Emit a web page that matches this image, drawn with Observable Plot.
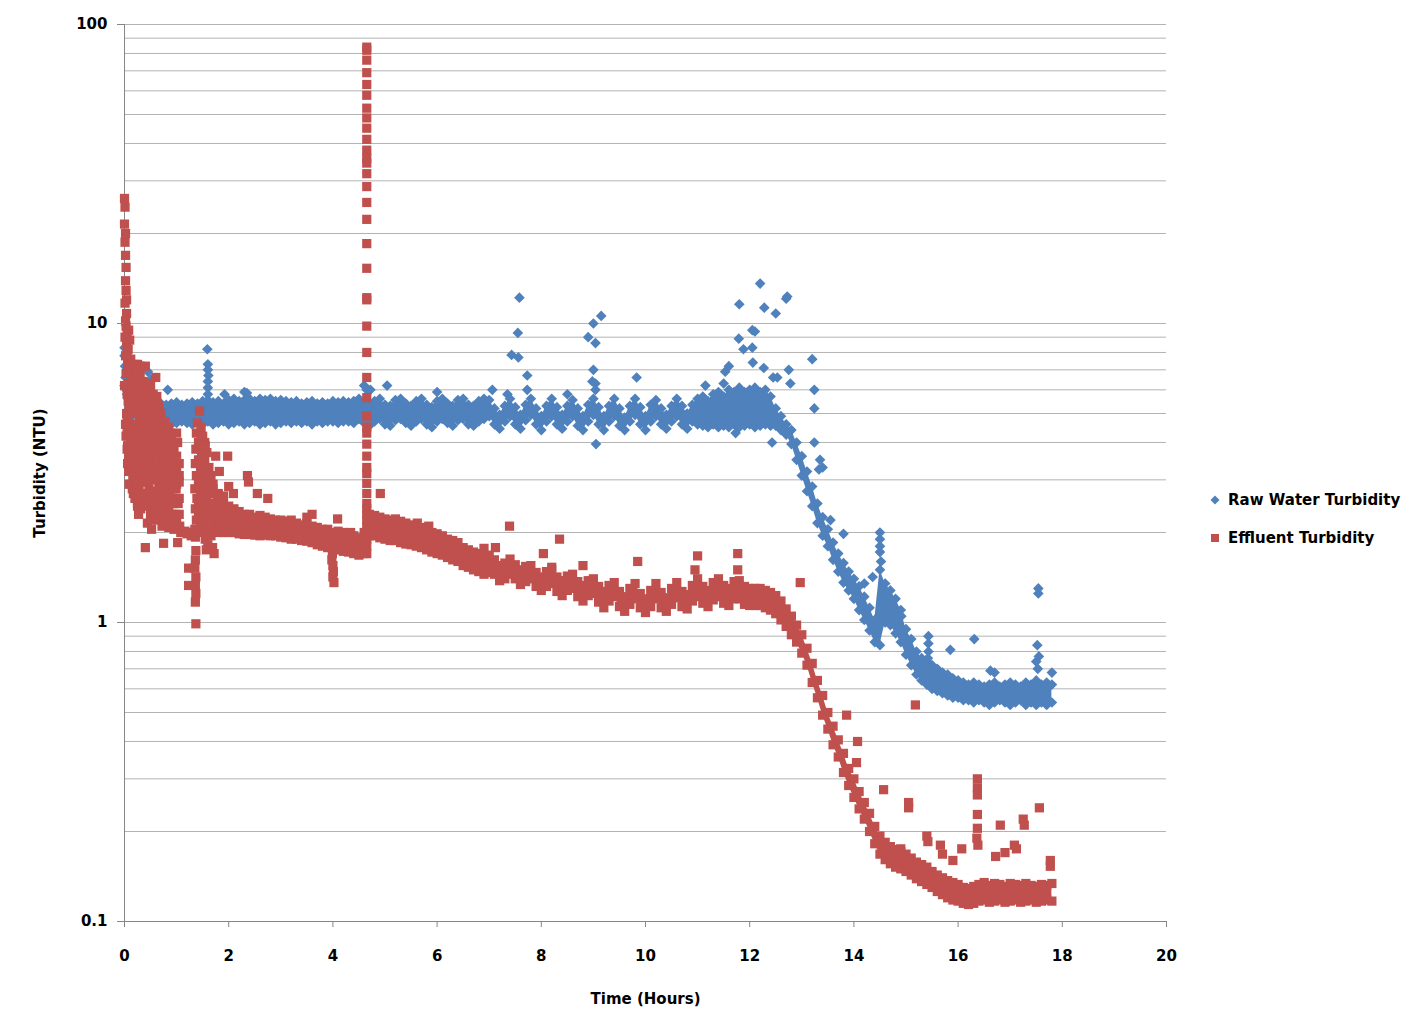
<!DOCTYPE html>
<html>
<head>
<meta charset="utf-8">
<script src="https://cdn.jsdelivr.net/npm/d3@7"></script>
<script src="https://cdn.jsdelivr.net/npm/@observablehq/plot@0.6"></script>
<style>
  html, body { margin: 0; padding: 0; background: #fff; }
  #wrap { position: relative; width: 1424px; height: 1035px; }
  #legend { position: absolute; left: 1208px; top: 490px; font: bold 15px 'DejaVu Sans', sans-serif; color: #000; }
  #legend .item { display: flex; align-items: center; height: 20px; margin-bottom: 18px; white-space: nowrap; }
  #legend svg { margin-right: 6px; }
</style>
</head>
<body>
<div id="wrap"><div id="chart"></div>
<div id="legend"></div></div>
<script>
const BLUE = "#4F81BD";
const RED = "#C0504D";

const xTicks = [0, 2, 4, 6, 8, 10, 12, 14, 16, 18, 20];
const yTicks = [0.1, 1, 10, 100];
const gridValues = [0.2,0.3,0.4,0.5,0.6,0.7,0.8,0.9,1,2,3,4,5,6,7,8,9,10,20,30,40,50,60,70,80,90,100];

const seriesNames = ["Raw Water Turbidity", "Effluent Turbidity"];

// Raw water: envelope of the dense scatter band, sampled every 0.1 h from 0.3 h
const rawStart = 0.3, rawStep = 0.1;
const rawHigh = [
  5.45,5.4,5.35,5.45,5.4,5.35,5.4,5.45,5.35,5.4,
  5.45,5.4,5.5,5.55,5.45,5.5,5.4,5.55,5.6,5.5,
  5.55,5.6,5.5,5.6,5.55,5.6,5.5,5.55,5.5,5.45,
  5.5,5.4,5.45,5.5,5.4,5.45,5.4,5.5,5.45,5.5,
  5.45,5.5,
  5.6,5.4,5.3,5.5,5.6,5.35,5.3,5.55,5.6,5.4,5.3,5.5,5.6,5.35,5.25,5.5,5.6,5.4,5.3,5.55,5.6,5.35,5.3,5.5,5.6,
  5.55,5.2,4.95,5.3,5.6,5.25,4.95,5.35,5.6,5.2,4.9,5.3,5.6,5.25,4.95,5.3,5.55,5.2,4.9,5.35,
  5.6,5.25,4.9,5.3,5.6,5.2,4.85,5.3,5.6,5.25,4.9,5.35,5.55,5.2,4.95,5.3,5.6,5.3,5.0,5.35,
  5.6,5.7,5.5,5.8,5.9,5.7,6.0,5.9,6.1,5.9,6.0,6.1,5.9,6.0,5.7,
  5.2,4.9,4.6,4.4,4.0,3.6,3.2,2.85,2.5,2.25,2.05,1.85,1.7,1.58,1.48,1.4,1.32,1.22,1.12,1.02,
  1.5,1.35,1.28,1.2,1.1,0.95,0.88,0.8,0.76,0.74,0.72,0.7,0.68,0.67,0.65,0.64,0.63,0.62,0.63,0.62,
  0.61,0.62,0.63,0.61,0.62,0.63,0.62,0.61,0.63,0.62,0.64,0.62,0.63,0.62
];
const rawLow = [
  4.7,4.7,4.65,4.6,4.65,4.7,4.6,4.65,4.7,4.65,
  4.6,4.65,4.6,4.7,4.6,4.65,4.7,4.6,4.65,4.7,
  4.6,4.65,4.7,4.6,4.65,4.7,4.6,4.65,4.7,4.65,
  4.7,4.65,4.7,4.6,4.7,4.65,4.7,4.7,4.65,4.7,
  4.7,4.65,
  4.8,4.65,4.55,4.7,4.8,4.6,4.55,4.75,4.8,4.65,4.55,4.7,4.8,4.6,4.5,4.7,4.8,4.65,4.55,4.75,4.8,4.6,4.55,4.7,4.8,
  4.9,4.6,4.45,4.7,4.9,4.6,4.45,4.75,4.95,4.6,4.4,4.7,4.9,4.6,4.45,4.7,4.9,4.55,4.4,4.7,
  4.95,4.6,4.4,4.7,4.9,4.55,4.4,4.7,4.95,4.6,4.4,4.7,4.9,4.6,4.45,4.7,4.9,4.6,4.45,4.7,
  4.6,4.55,4.5,4.6,4.5,4.55,4.5,4.6,4.5,4.55,4.6,4.5,4.55,4.6,4.55,
  4.55,4.4,4.25,3.95,3.5,3.1,2.75,2.45,2.15,1.95,1.8,1.62,1.48,1.36,1.28,1.2,1.1,1.02,0.94,0.86,
  0.84,1.0,0.98,0.92,0.86,0.78,0.72,0.67,0.64,0.62,0.6,0.59,0.58,0.57,0.56,0.56,0.55,0.55,0.54,0.55,
  0.54,0.53,0.54,0.55,0.54,0.53,0.54,0.55,0.53,0.54,0.53,0.54,0.53,0.54
];
// Raw water: isolated readings [hours, NTU]
const rawExtra = [
  [0.0,8.3],[0.0,7.8],[0.01,7.2],[0.02,6.6],[0.0,6.2],[0.03,6.0],[0.05,5.8],[0.07,5.6],[0.1,5.5],[0.12,5.2],
  [0.15,5.0],[0.18,5.3],[0.2,5.6],[0.25,5.4],[0.27,4.9],[0.05,5.1],[0.1,4.8],
  [0.4,6.2],[0.45,6.9],[0.5,6.5],[0.83,6.0],[1.59,8.2],[1.6,7.3],[1.6,7.0],[1.61,6.7],[1.6,6.4],[1.6,6.1],[1.6,5.8],
  [1.92,5.8],[2.3,5.9],[2.35,5.85],[4.6,6.2],[4.65,6.0],[4.72,6.0],[5.04,6.2],[6.0,5.9],[7.06,6.0],[7.35,5.8],
  [7.43,7.85],[7.56,7.7],[7.55,9.3],[7.58,12.2],[7.73,6.7],[7.73,6.0],[8.5,5.8],[8.9,9.0],[9.0,10.0],[9.15,10.6],
  [9.04,8.6],[9.0,7.0],[8.98,6.4],[9.04,6.3],[9.04,6.0],[9.05,3.95],[9.83,6.6],[11.15,6.2],[11.5,6.3],[11.53,6.9],
  [11.6,7.2],[11.73,4.3],[11.79,8.9],[11.8,11.6],[11.88,8.2],[12.05,9.5],[12.1,9.4],[12.05,8.3],[12.06,7.4],[12.2,13.6],
  [12.27,7.1],[12.28,11.3],[12.5,10.8],[12.53,6.6],[12.45,6.6],[12.43,4.0],[12.7,12.1],[12.72,12.3],[12.75,7.0],[12.78,6.3],
  [13.2,7.6],[13.24,6.0],[13.24,5.2],[13.24,4.0],[13.35,3.5],[13.4,3.3],[13.33,3.25],[13.55,2.2],[13.8,1.98],
  [14.5,2.0],[14.5,1.9],[14.5,1.8],[14.5,1.72],[14.52,1.6],[14.36,1.42],[14.2,1.35],[14.91,1.05],
  [15.43,0.9],[15.43,0.85],[15.43,0.8],[15.42,0.76],[15.85,0.81],[16.31,0.88],[16.62,0.69],[16.7,0.68],
  [17.54,1.25],[17.54,1.3],[17.52,0.84],[17.55,0.77],[17.5,0.74],[17.53,0.7],[17.8,0.68]
];

// Effluent: envelope of the dense band, sampled every 0.1 h from 1.7 h
const effStart = 1.7, effStep = 0.1;
const effHigh = [
  2.9,2.7,2.55,2.45,2.4,2.35,2.3,2.3,2.25,2.28,2.25,2.22,2.2,2.2,2.18,2.2,2.15,2.12,2.15,2.1,2.08,2.05,2.05,2.0,2.02,2.0,1.98,1.95,1.92,
  2.0,2.3,2.28,2.25,2.22,2.2,2.22,2.18,2.15,2.12,2.1,2.08,2.05,2.0,1.98,1.95,1.9,1.88,1.85,1.78,1.75,1.72,1.7,1.65,1.68,
  1.62,1.55,1.58,1.63,1.56,1.5,1.54,1.55,1.47,1.42,1.48,1.5,1.42,1.38,1.43,1.45,1.37,1.33,1.38,1.4,
  1.32,1.27,1.33,1.36,1.27,1.22,1.3,1.35,1.25,1.2,1.28,1.35,1.26,1.21,1.3,1.36,1.27,1.24,1.33,1.4,
  1.32,1.28,1.36,1.4,1.33,1.3,1.37,1.38,1.32,1.3,1.3,
  1.3,1.28,1.26,1.23,1.18,1.11,1.05,0.98,0.91,0.82,0.73,0.64,0.57,0.5,0.45,0.405,0.365,0.325,0.3,0.272,
  0.25,0.23,0.208,0.193,0.184,0.178,0.174,0.171,0.168,0.163,0.158,0.155,0.152,0.147,0.143,0.14,0.137,0.135,0.133,0.13,
  0.129,0.131,0.133,0.135,0.132,0.134,0.133,0.131,0.134,0.133,0.132,0.134,0.132,0.131,0.133,0.132,0.134
];
const effLow = [
  2.05,2.0,2.0,2.0,2.0,1.98,1.97,1.97,1.96,1.95,1.96,1.95,1.95,1.93,1.92,1.9,1.9,1.88,1.87,1.85,1.82,1.8,1.78,1.75,1.75,1.73,1.72,1.7,1.68,
  1.7,1.95,1.95,1.92,1.9,1.88,1.88,1.85,1.83,1.82,1.8,1.78,1.75,1.72,1.7,1.68,1.65,1.62,1.6,1.55,1.53,1.5,1.48,1.45,1.47,
  1.45,1.38,1.4,1.45,1.4,1.34,1.37,1.4,1.32,1.28,1.32,1.35,1.27,1.23,1.28,1.3,1.22,1.18,1.23,1.25,
  1.17,1.12,1.18,1.22,1.13,1.09,1.15,1.2,1.12,1.08,1.13,1.2,1.12,1.09,1.15,1.21,1.13,1.11,1.18,1.22,
  1.16,1.13,1.19,1.22,1.16,1.14,1.2,1.2,1.15,1.14,1.14,
  1.14,1.12,1.1,1.07,1.02,0.97,0.91,0.86,0.79,0.72,0.63,0.56,0.49,0.44,0.39,0.355,0.315,0.285,0.26,0.238,
  0.22,0.2,0.182,0.168,0.161,0.156,0.152,0.15,0.147,0.143,0.139,0.136,0.133,0.13,0.126,0.123,0.12,0.118,0.117,0.115,
  0.114,0.115,0.117,0.118,0.116,0.117,0.118,0.116,0.117,0.118,0.116,0.117,0.118,0.116,0.117,0.118,0.117
];
// Effluent: scattered start-up readings and outliers [hours, NTU]
const effExtra = [
  [0.0,26.2],[0.01,24.5],[0.0,21.5],[0.02,20],[0.01,18.7],[0.02,16.9],[0.03,15.4],[0.02,13.9],[0.03,12.9],[0.01,11.7],
  [0.04,10.8],[0.03,9.8],[0.05,9.3],[0.04,8.6],[0.05,8.0],[0.06,7.4],[0.03,6.8],[0.07,6.3],[0.05,5.8],[0.02,10.2],
  [0.04,12.0],[0.01,9.0],[0.06,7.0],[0.02,7.8],[0.0,6.2],[0.08,6.9],[0.07,5.5],[0.04,5.0],[0.02,4.6],[0.03,4.2],
  [0.05,3.8],[0.06,3.4],[0.08,4.5],[0.09,5.2],[0.05,4.8],[0.05,4.4],[0.06,3.9],[0.08,3.6],[0.08,3.2],[0.09,2.9],
  [0.08,9.5],[0.1,8.8],[0.07,8.2],[0.12,7.6],[0.1,7.1],[0.14,6.6],[0.09,6.2],[0.12,5.8],[0.16,5.4],[0.1,5.0],
  [0.13,4.6],[0.17,4.3],[0.11,4.0],[0.15,3.7],[0.12,3.4],[0.16,3.1],[0.14,2.9],[0.17,2.7],
  [0.15,6.0],[0.15,5.0],[0.15,4.4],[0.15,3.9],[0.15,3.3],[0.15,2.8],
  [0.2,7.3],[0.25,7.3],[0.3,7.2],[0.22,6.8],[0.28,6.4],[0.34,6.1],[0.2,5.9],[0.26,5.6],[0.32,5.3],[0.23,5.0],
  [0.29,4.7],[0.35,4.5],[0.21,4.3],[0.27,4.0],[0.33,3.8],[0.24,3.6],[0.3,3.4],[0.36,3.2],[0.22,3.0],[0.28,2.85],
  [0.34,2.7],[0.25,2.5],[0.31,2.4],[0.27,2.3],
  [0.2,6.4],[0.2,5.4],[0.2,4.6],[0.2,4.1],[0.2,3.5],[0.2,3.2],[0.2,2.6],
  [0.25,6.9],[0.25,6.0],[0.25,5.2],[0.25,4.6],[0.25,3.9],[0.25,3.3],[0.25,2.9],[0.25,2.45],
  [0.3,6.7],[0.3,5.8],[0.3,5.0],[0.3,4.3],[0.3,3.7],[0.3,3.1],[0.3,2.7],
  [0.35,6.4],[0.35,5.6],[0.35,4.8],[0.35,4.1],[0.35,3.5],[0.35,3.0],[0.35,2.55],
  [0.4,7.2],[0.45,6.3],[0.5,5.9],[0.42,5.6],[0.48,5.2],[0.54,4.9],[0.39,4.7],[0.46,4.4],[0.52,4.1],[0.41,3.9],
  [0.49,3.7],[0.55,3.5],[0.43,3.3],[0.5,3.1],[0.38,2.95],[0.47,2.8],[0.53,2.6],[0.4,2.45],[0.5,2.3],[0.44,2.15],
  [0.52,2.05],[0.4,1.78],
  [0.4,6.0],[0.4,5.3],[0.4,4.9],[0.4,4.2],[0.4,3.6],[0.4,3.1],[0.4,2.6],
  [0.45,5.9],[0.45,5.1],[0.45,4.7],[0.45,4.0],[0.45,3.45],[0.45,2.95],[0.45,2.5],
  [0.5,6.3],[0.5,5.4],[0.5,4.6],[0.5,3.9],[0.5,3.3],[0.5,2.7],[0.5,2.2],
  [0.55,5.8],[0.55,5.0],[0.55,4.4],[0.55,3.8],[0.55,3.2],[0.55,2.75],[0.55,2.35],
  [0.6,6.6],[0.62,5.7],[0.66,5.3],[0.7,5.0],[0.58,4.8],[0.64,4.5],[0.72,4.3],[0.6,4.1],[0.68,3.9],[0.74,3.6],
  [0.62,3.4],[0.7,3.2],[0.58,3.0],[0.66,2.85],[0.73,2.7],[0.6,2.5],[0.69,2.35],[0.64,2.2],[0.72,2.1],[0.75,1.84],
  [0.6,5.5],[0.6,4.8],[0.6,4.3],[0.6,3.7],[0.6,3.2],[0.6,2.7],[0.6,2.25],
  [0.65,5.0],[0.65,4.6],[0.65,4.0],[0.65,3.5],[0.65,3.0],[0.65,2.6],[0.65,2.3],
  [0.7,4.7],[0.7,4.2],[0.7,3.7],[0.7,3.3],[0.7,2.8],[0.7,2.45],
  [0.75,4.5],[0.75,4.0],[0.75,3.4],[0.75,3.0],[0.75,2.6],[0.75,2.25],
  [0.78,4.7],[0.84,4.5],[0.88,4.3],[0.8,4.0],[0.9,3.8],[0.77,3.6],[0.86,3.45],[0.93,3.3],[0.81,3.1],[0.89,2.95],
  [0.79,2.8],[0.87,2.65],[0.94,2.5],[0.83,2.35],[0.91,2.2],[0.85,2.08],
  [0.8,4.3],[0.8,3.8],[0.8,3.3],[0.8,2.9],[0.8,2.5],[0.8,2.2],
  [0.85,4.0],[0.85,3.6],[0.85,3.1],[0.85,2.75],[0.85,2.4],[0.85,2.15],
  [0.9,4.2],[0.9,3.5],[0.9,3.0],[0.9,2.6],[0.9,2.3],[0.9,2.1],
  [0.95,3.8],[0.95,3.2],[0.95,2.8],[0.95,2.5],[0.95,2.2],[0.95,2.05],
  [1.0,4.3],[1.02,4.0],[0.97,3.55],[1.05,3.1],[0.99,2.8],[1.03,2.5],[0.98,2.3],[1.06,2.1],[1.02,1.85],[1.08,2.0],
  [1.0,3.6],[1.0,3.3],[1.0,2.9],[1.0,2.6],[1.0,2.2],[1.05,3.4],[1.05,2.95],[1.05,2.6],[1.05,2.3],
  [1.12,2.0],[1.16,2.02],[1.2,1.98],[1.25,2.0],[1.23,1.52],[1.23,1.33],[1.28,1.95],
  [1.44,5.1],[1.4,4.65],[1.38,4.3],[1.37,3.8],[1.36,3.4],[1.38,3.1],[1.35,2.8],[1.39,2.6],[1.36,2.4],[1.38,2.2],
  [1.35,2.05],[1.36,1.93],[1.37,1.74],[1.36,1.62],[1.35,1.52],[1.37,1.42],[1.36,1.33],[1.37,1.25],[1.36,1.17],[1.37,0.99],
  [1.42,4.0],[1.42,3.5],[1.42,2.9],[1.42,2.5],[1.42,2.3],
  [1.46,4.3],[1.46,3.8],[1.46,3.3],[1.46,2.75],[1.46,2.4],[1.46,2.15],
  [1.5,3.8],[1.5,3.2],[1.5,2.7],[1.5,2.35],[1.5,2.1],
  [1.54,4.0],[1.54,3.5],[1.54,3.0],[1.54,2.6],[1.54,2.3],[1.54,2.05],
  [1.58,3.7],[1.58,3.0],[1.58,2.55],[1.58,2.25],[1.58,2.0],
  [1.62,3.3],[1.62,2.9],[1.62,2.5],[1.62,2.2],[1.62,2.0],
  [1.66,3.1],[1.66,2.7],[1.66,2.4],[1.66,2.15],[1.66,1.95],
  [1.47,4.5],[1.5,4.2],[1.55,3.9],[1.48,3.6],[1.52,3.4],[1.58,3.2],[1.46,3.0],[1.54,2.85],[1.6,2.7],[1.49,2.55],
  [1.56,2.45],[1.62,2.35],[1.51,2.25],[1.58,2.15],[1.64,2.1],[1.5,2.0],[1.55,1.9],[1.6,1.82],[1.57,1.75],
  [1.69,1.78],[1.72,1.7],[1.75,3.6],[1.82,3.2],[1.98,3.6],[1.7,2.8],[1.78,2.6],[1.86,2.5],[1.9,2.65],[2.0,2.85],
  [2.09,2.7],[2.36,3.1],[2.38,2.95],[2.55,2.7],[2.75,2.6],[3.5,2.25],[3.6,2.3],[4.09,2.22],[4.34,2.0],
  [3.98,1.62],[4.0,1.55],[4.01,1.48],[4.0,1.42],[4.02,1.36],[3.99,1.7],
  [4.91,2.7],[5.62,2.15],[5.84,2.1],[6.07,1.93],[6.9,1.77],[7.12,1.78],[7.39,2.1],[8.04,1.7],[8.2,1.53],[8.35,1.9],
  [8.8,1.55],[9.85,1.6],[10.95,1.5],[11.0,1.67],[11.77,1.7],[11.77,1.5],[12.97,1.36],
  [13.86,0.49],[14.07,0.4],[14.05,0.34],[14.57,0.276],[15.05,0.25],[15.05,0.24],[15.18,0.53],[15.4,0.193],[15.42,0.185],
  [15.66,0.18],[16.07,0.175],[16.37,0.3],[16.37,0.28],[16.37,0.265],[16.37,0.228],[16.37,0.205],[16.36,0.19],[16.38,0.18],
  [16.81,0.21],[17.25,0.22],[17.27,0.21],[17.56,0.24],[17.08,0.18],[17.12,0.175],[16.9,0.17],[16.72,0.165],
  [17.77,0.16],[17.77,0.153],[15.7,0.168],[15.9,0.16],[14.9,0.175]
];
// Effluent: the spike at about 4.65 h
const effSpikeTime = 4.65;
const effSpikeValues = [84,82,76,69,63,58,52.5,48.7,45,41.3,38,35.7,34.4,31.7,28.7,25.4,22.3,18.5,15.3,12.2,12.0,
  9.8,8.0,6.6,5.65,4.9,4.5,4.3,3.95,3.6,3.3,3.15,2.92,2.7,2.5,2.4,2.3,2.2,2.1,2.0,1.9,1.8,1.7];

// ---- build tables ----
const rawBand = rawHigh.map((h, i) => ({t: +(rawStart + i * rawStep).toFixed(2), hi: h, lo: rawLow[i]}));
const effBand = effHigh.map((h, i) => ({t: +(effStart + i * effStep).toFixed(2), hi: h, lo: effLow[i]}));
const effSpike = effSpikeValues.map(v => ({t: effSpikeTime, v}));
const rawPts = rawExtra.map(([t, v]) => ({t, v}));
const effPts = effExtra.map(([t, v]) => ({t, v}));

const DR = 4.8;  // diamond radius
const SR = 5.2;  // square radius

const chart = Plot.plot({
  width: 1424,
  height: 1035,
  marginLeft: 124,
  marginRight: 258,
  marginTop: 24,
  marginBottom: 114,
  style: {fontFamily: "'DejaVu Sans', sans-serif", fontSize: "15px", fontWeight: "bold", color: "#000", background: "#fff"},
  x: {domain: [0, 20]},
  y: {type: "log", domain: [0.1, 100]},
  marks: [
    Plot.ruleY(gridValues, {stroke: "#b3b3b3", strokeWidth: 1}),
    Plot.ruleY([0.1], {stroke: "#868686"}),
    Plot.ruleX([0], {stroke: "#868686"}),
    Plot.areaY(rawBand, {x: "t", y1: "lo", y2: "hi", fill: BLUE}),
    Plot.dot(rawBand, {x: "t", y: "hi", symbol: "diamond2", r: DR, fill: BLUE}),
    Plot.dot(rawBand, {x: "t", y: "lo", symbol: "diamond2", r: DR, fill: BLUE}),
    Plot.dot(rawPts, {x: "t", y: "v", symbol: "diamond2", r: DR, fill: BLUE}),
    Plot.areaY(effBand, {x: "t", y1: "lo", y2: "hi", fill: RED}),
    Plot.dot(effBand, {x: "t", y: "hi", symbol: "square", r: SR, fill: RED}),
    Plot.dot(effBand, {x: "t", y: "lo", symbol: "square", r: SR, fill: RED}),
    Plot.dot(effPts, {x: "t", y: "v", symbol: "square", r: SR, fill: RED}),
    Plot.dot(effSpike, {x: "t", y: "v", symbol: "square", r: SR, fill: RED}),
    Plot.axisX(xTicks, {tickSize: 6, tickPadding: 23, stroke: "#868686", label: "Time (Hours)", labelAnchor: "center", labelOffset: 82, labelArrow: "none"}),
    Plot.axisY(yTicks, {tickSize: 7, tickPadding: 10, stroke: "#868686", tickFormat: d => String(d), label: "Turbidity (NTU)", labelAnchor: "center", labelOffset: 90, labelArrow: "none"})
  ]
});
document.getElementById("chart").appendChild(chart);

// legend
const legend = document.getElementById("legend");
const markers = [
  `<svg width="14" height="14"><path d="M7 2.5 L11.5 7 L7 11.5 L2.5 7 Z" fill="${BLUE}"/></svg>`,
  `<svg width="14" height="14"><rect x="3" y="3" width="8" height="8" fill="${RED}"/></svg>`
];
seriesNames.forEach((name, i) => {
  const item = document.createElement("div");
  item.className = "item";
  item.innerHTML = markers[i] + `<span>${name}</span>`;
  legend.appendChild(item);
});
</script>
</body>
</html>
